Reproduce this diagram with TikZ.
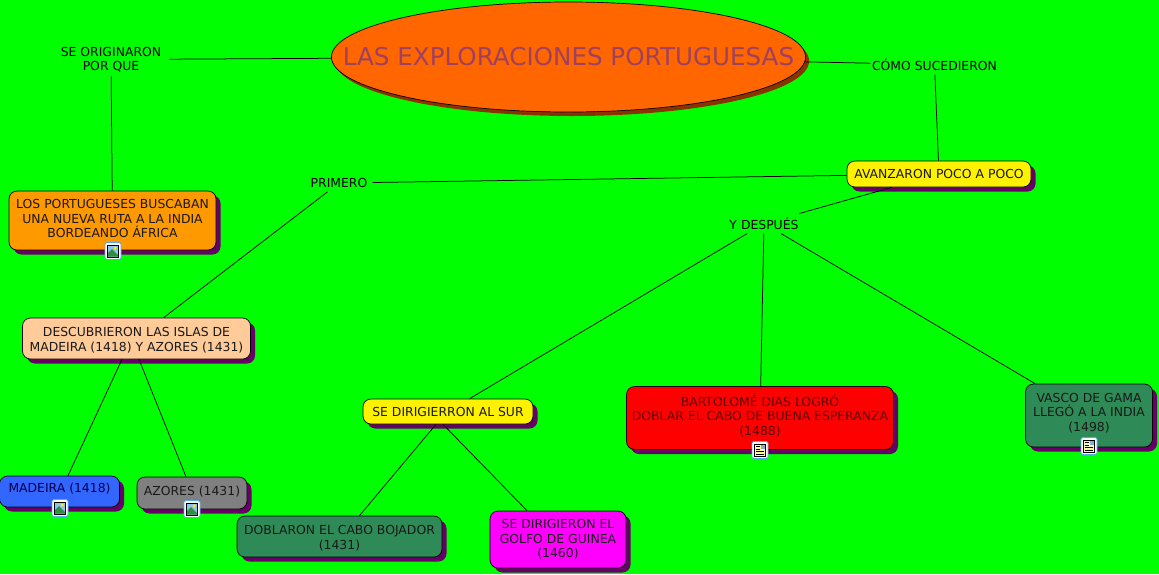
\documentclass[tikz,border=0pt]{standalone}
\usepackage{fontspec}
\setmainfont{DejaVu Sans}
\usetikzlibrary{shapes, positioning, shadows}

\definecolor{fondo}{HTML}{00FF00}
\definecolor{sombra}{HTML}{660066}
\definecolor{marino}{HTML}{2E8B57}
\definecolor{naranja}{HTML}{FF6600}
\definecolor{ambar}{HTML}{FF9900}
\definecolor{crema}{HTML}{FFCC99}
\definecolor{azul}{HTML}{3366FF}
\definecolor{rosa}{HTML}{FF00FF}
\definecolor{gris}{HTML}{808080}
\definecolor{cielo}{HTML}{8FC4F0}
\definecolor{colina}{HTML}{2F8F3F}
\definecolor{marco}{HTML}{5AA8F0}
\definecolor{tituloletra}{HTML}{A04060}
\definecolor{sombratitulo}{HTML}{8B3300}

\tikzset{
    imgicon/.pic={
        \draw[draw=marco, fill=white, rounded corners=1.5pt, line width=0.8pt] (-8,-8.5) rectangle (8,8.5);
        \draw[draw=black, fill=cielo, line width=0.8pt] (-5.5,-6) rectangle (5.5,6);
        \fill[colina] (-5,5.5) -- (-5,2) -- (-1,-2) -- (5,4) -- (5,5.5) -- cycle;
        \fill[yellow] (2.2,-3) circle (1.7);
    },
    docicon/.pic={
        \draw[draw=marco, fill=white, rounded corners=1.5pt, line width=0.8pt] (-8,-8.5) rectangle (8,8.5);
        \draw[draw=black, fill=yellow!35, line width=0.8pt] (-5.5,-6) rectangle (5.5,6);
        \fill[cielo!70!gray] (0.5,-5.5) rectangle (5,-1);
        \foreach \yy in {-3.5,-1} {
            \draw[black, line width=0.7pt] (-4,\yy) -- (-0.5,\yy);
        }
        \foreach \yy in {1.5,4} {
            \draw[black, line width=0.7pt] (-4,\yy) -- (4,\yy);
        }
    }
}

\begin{document}
\begin{tikzpicture}[
    x=1pt, y=-1pt,
    every node/.style={font=\fontsize{12.4}{14.6}\selectfont, align=center},
    concepto/.style={draw=black, line width=0.7pt, rounded corners=8pt, inner sep=0pt, text=black!90,
        copy shadow={shadow xshift=4.5pt, shadow yshift=-4.5pt, fill=sombra, draw=none}},
    enlace/.style={inner xsep=8pt, inner ysep=4pt, text=black},
    linea/.style={draw=black, line width=0.75pt}
]
    \clip (0,0) rectangle (1159,574);
    \fill[fondo] (0,0) rectangle (1159,574);

    % conceptos
    \node[ellipse, draw=black, line width=0.7pt, inner ysep=0pt, inner xsep=-58pt, minimum width=474pt, minimum height=110pt,
        fill=naranja, text=tituloletra, font=\fontsize{24.6}{28}\selectfont,
        copy shadow={shadow xshift=3.5pt, shadow yshift=-4pt, fill=sombratitulo, draw=none}]
        (titulo) at (568.5,57) {LAS EXPLORACIONES PORTUGUESAS};
    \node[concepto, fill=ambar, text depth=4pt, minimum width=207pt, minimum height=59pt] (buscaban) at (112.5,220.5)
        {LOS PORTUGUESES BUSCABAN\\UNA NUEVA RUTA A LA INDIA\\BORDEANDO ÁFRICA};
    \node[concepto, fill=crema, text height=27pt, minimum width=228pt, minimum height=41pt] (islas) at (136.5,338.5)
        {DESCUBRIERON LAS ISLAS DE\\MADEIRA (1418) Y AZORES (1431)};
    \node[concepto, fill=azul, text=blue!30!black, text depth=7pt, minimum width=120pt, minimum height=31pt] (madeira) at (59.5,491.5)
        {MADEIRA (1418)};
    \node[concepto, fill=gris, text depth=5pt, minimum width=110pt, minimum height=32pt] (azores) at (192,493)
        {AZORES (1431)};
    \node[concepto, fill=marino, text height=27pt, minimum width=205pt, minimum height=41pt] (bojador) at (339.5,536.5)
        {DOBLARON EL CABO BOJADOR\\(1431)};
    \node[concepto, fill=rosa, minimum width=136pt, minimum height=57pt] (guinea) at (558,539.5)
        {SE DIRIGIERON EL\\GOLFO DE GUINEA\\(1460)};
    \node[concepto, fill=yellow, minimum width=170pt, minimum height=25pt] (sur) at (448,411.5)
        {SE DIRIGIERRON AL SUR};
    \node[concepto, fill=red, text=red!35!black, text depth=6pt, minimum width=267pt, minimum height=63pt] (dias) at (760,418)
        {BARTOLOMÉ DIAS LOGRÓ\\DOBLAR EL CABO DE BUENA ESPERANZA\\(1488)};
    \node[concepto, fill=marino, text depth=7pt, minimum width=127pt, minimum height=63pt] (gama) at (1089,415.5)
        {VASCO DE GAMA\\LLEGÓ A LA INDIA\\(1498)};
    \node[concepto, fill=yellow, minimum width=184pt, minimum height=26pt] (avanzaron) at (939,174)
        {AVANZARON POCO A POCO};

    % enlaces
    \node[enlace] (originaron) at (111,59.5) {SE ORIGINARON\\POR QUE};
    \node[enlace, inner xsep=1.5pt] (sucedieron) at (934.5,64.5) {CÓMO SUCEDIERON};
    \node[enlace, inner xsep=5pt] (primero) at (339,183) {PRIMERO};
    \node[enlace] (despues) at (764,223.5) {Y DESPUÉS};

    % lineas
    \draw[linea] (originaron) -- (titulo);
    \draw[linea] (originaron) -- (buscaban);
    \draw[linea] (titulo) -- (sucedieron);
    \draw[linea] (sucedieron) -- (avanzaron);
    \draw[linea] (avanzaron) -- (primero);
    \draw[linea] (primero) -- (islas);
    \draw[linea] (avanzaron) -- (despues);
    \draw[linea] (despues) -- (sur);
    \draw[linea] (despues) -- (dias);
    \draw[linea] (despues) -- (gama);
    \draw[linea] ([xshift=-14.5pt]islas.south) -- ([xshift=8.5pt]madeira.north);
    \draw[linea] ([xshift=2.5pt]islas.south) -- ([xshift=-6pt]azores.north);
    \draw[linea] ([xshift=-12pt]sur.south) -- ([xshift=20pt]bojador.north);
    \draw[linea] ([xshift=-5pt]sur.south) -- ([xshift=-31pt]guinea.north);

    % iconos
    \pic at (113,251) {imgicon};
    \pic at (60,508) {imgicon};
    \pic at (192,509) {imgicon};
    \pic at (760,450) {docicon};
    \pic at (1089,446) {docicon};
\end{tikzpicture}
\end{document}
